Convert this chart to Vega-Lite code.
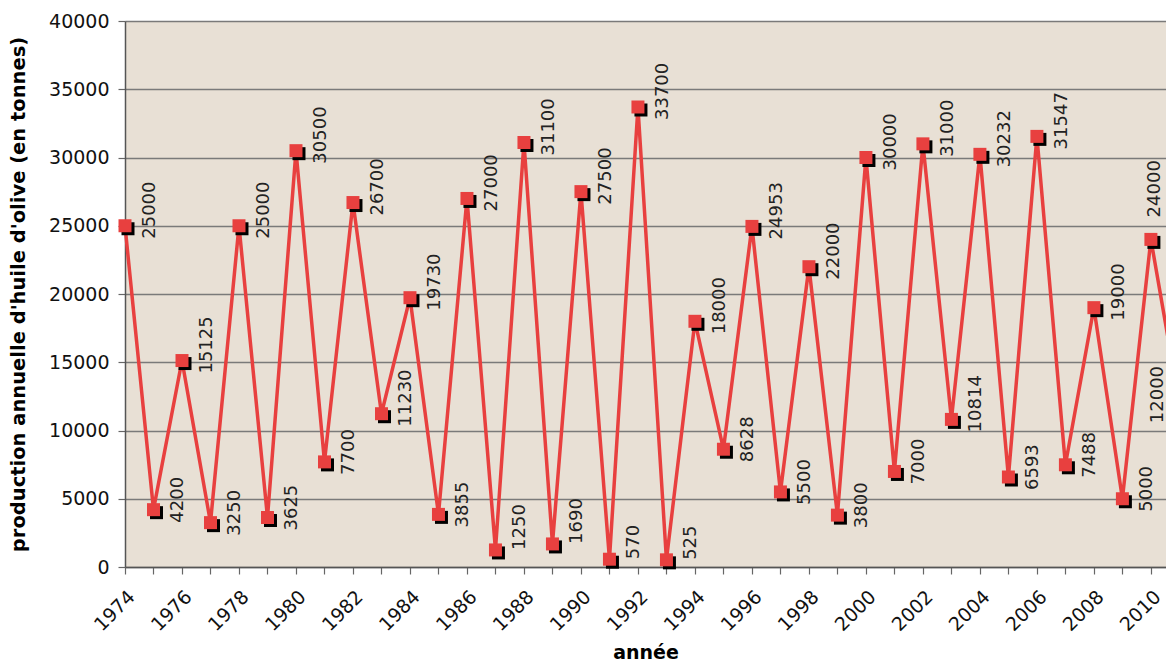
{
  "$schema": "https://vega.github.io/schema/vega-lite/v6.json",
  "width": 1041,
  "height": 546,
  "autosize": {"type": "none"},
  "padding": {"left": 125, "top": 21, "right": 0, "bottom": 97},
  "background": "white",
  "config": {
    "view": {"fill": "#e8e0d5", "stroke": null},
    "font": "DejaVu Sans"
  },
  "data": {
    "values": [
      {"annee": 1974, "production": 25000},
      {"annee": 1975, "production": 4200},
      {"annee": 1976, "production": 15125},
      {"annee": 1977, "production": 3250},
      {"annee": 1978, "production": 25000},
      {"annee": 1979, "production": 3625},
      {"annee": 1980, "production": 30500},
      {"annee": 1981, "production": 7700},
      {"annee": 1982, "production": 26700},
      {"annee": 1983, "production": 11230},
      {"annee": 1984, "production": 19730},
      {"annee": 1985, "production": 3855},
      {"annee": 1986, "production": 27000},
      {"annee": 1987, "production": 1250},
      {"annee": 1988, "production": 31100},
      {"annee": 1989, "production": 1690},
      {"annee": 1990, "production": 27500},
      {"annee": 1991, "production": 570},
      {"annee": 1992, "production": 33700},
      {"annee": 1993, "production": 525},
      {"annee": 1994, "production": 18000},
      {"annee": 1995, "production": 8628},
      {"annee": 1996, "production": 24953},
      {"annee": 1997, "production": 5500},
      {"annee": 1998, "production": 22000},
      {"annee": 1999, "production": 3800},
      {"annee": 2000, "production": 30000},
      {"annee": 2001, "production": 7000},
      {"annee": 2002, "production": 31000},
      {"annee": 2003, "production": 10814},
      {"annee": 2004, "production": 30232},
      {"annee": 2005, "production": 6593},
      {"annee": 2006, "production": 31547},
      {"annee": 2007, "production": 7488},
      {"annee": 2008, "production": 19000},
      {"annee": 2009, "production": 5000},
      {"annee": 2010, "production": 24000},
      {"annee": 2011, "production": 12000}
    ]
  },
  "encoding": {
    "x": {
      "field": "annee",
      "type": "quantitative",
      "scale": {"domain": [1974, 2010.53], "nice": false, "zero": false},
      "axis": {
        "values": [1974,1975,1976,1977,1978,1979,1980,1981,1982,1983,1984,1985,1986,1987,1988,1989,1990,1991,1992,1993,1994,1995,1996,1997,1998,1999,2000,2001,2002,2003,2004,2005,2006,2007,2008,2009,2010],
        "format": "d",
        "labelExpr": "datum.value % 2 === 0 ? datum.label : ''",
        "labelAngle": -45,
        "labelFontSize": 19,
        "labelColor": "#111111",
        "labelPadding": 13,
        "labelOverlap": false,
        "labelBound": false,
        "tickColor": "#666666",
        "tickSize": 7,
        "tickWidth": 1.2,
        "domainColor": "#555555",
        "domainWidth": 1.5,
        "grid": false,
        "title": "année",
        "titleFontSize": 19,
        "titleFontWeight": "bold",
        "titleColor": "#000000",
        "titlePadding": 9
      }
    },
    "y": {
      "field": "production",
      "type": "quantitative",
      "scale": {"domain": [0, 40000], "nice": false},
      "axis": {
        "values": [0, 5000, 10000, 15000, 20000, 25000, 30000, 35000, 40000],
        "format": "d",
        "labelFontSize": 19,
        "labelColor": "#111111",
        "labelPadding": 9,
        "tickColor": "#666666",
        "tickSize": 7,
        "tickWidth": 1.2,
        "domainColor": "#555555",
        "domainWidth": 1.5,
        "grid": true,
        "gridColor": "#7a7a7a",
        "gridWidth": 1.5,
        "title": "production annuelle d'huile d'olive (en tonnes)",
        "titleFontSize": 19.5,
        "titleFontWeight": "bold",
        "titleColor": "#000000",
        "titlePadding": 20
      }
    }
  },
  "layer": [
    {
      "mark": {"type": "line", "color": "#e8403f", "strokeWidth": 3.5}
    },
    {
      "mark": {"type": "point", "shape": "square", "filled": true, "size": 169, "color": "#000000", "opacity": 1, "xOffset": 3, "yOffset": 3}
    },
    {
      "mark": {"type": "point", "shape": "square", "filled": true, "size": 169, "color": "#e8403f", "opacity": 1}
    },
    {
      "transform": [{"filter": "datum.production >= 2000 && datum.annee < 2010"}],
      "mark": {"type": "text", "angle": 270, "align": "left", "baseline": "middle", "dx": -13, "dy": 25, "fontSize": 18, "color": "#222222"},
      "encoding": {"text": {"field": "production", "type": "quantitative", "format": "d"}}
    },
    {
      "transform": [{"filter": "datum.production < 2000"}],
      "mark": {"type": "text", "angle": 270, "align": "left", "baseline": "middle", "dx": 0, "dy": 25, "fontSize": 18, "color": "#222222"},
      "encoding": {"text": {"field": "production", "type": "quantitative", "format": "d"}}
    },
    {
      "transform": [{"filter": "datum.annee == 2010"}],
      "mark": {"type": "text", "angle": 270, "align": "left", "baseline": "middle", "dx": 22, "dy": 4, "fontSize": 18, "color": "#222222"},
      "encoding": {"text": {"field": "production", "type": "quantitative", "format": "d"}}
    },
    {
      "transform": [{"filter": "datum.annee == 2011"}],
      "mark": {"type": "text", "angle": 270, "align": "left", "baseline": "middle", "dx": -20, "dy": -21, "fontSize": 18, "color": "#222222"},
      "encoding": {"text": {"field": "production", "type": "quantitative", "format": "d"}}
    }
  ]
}
